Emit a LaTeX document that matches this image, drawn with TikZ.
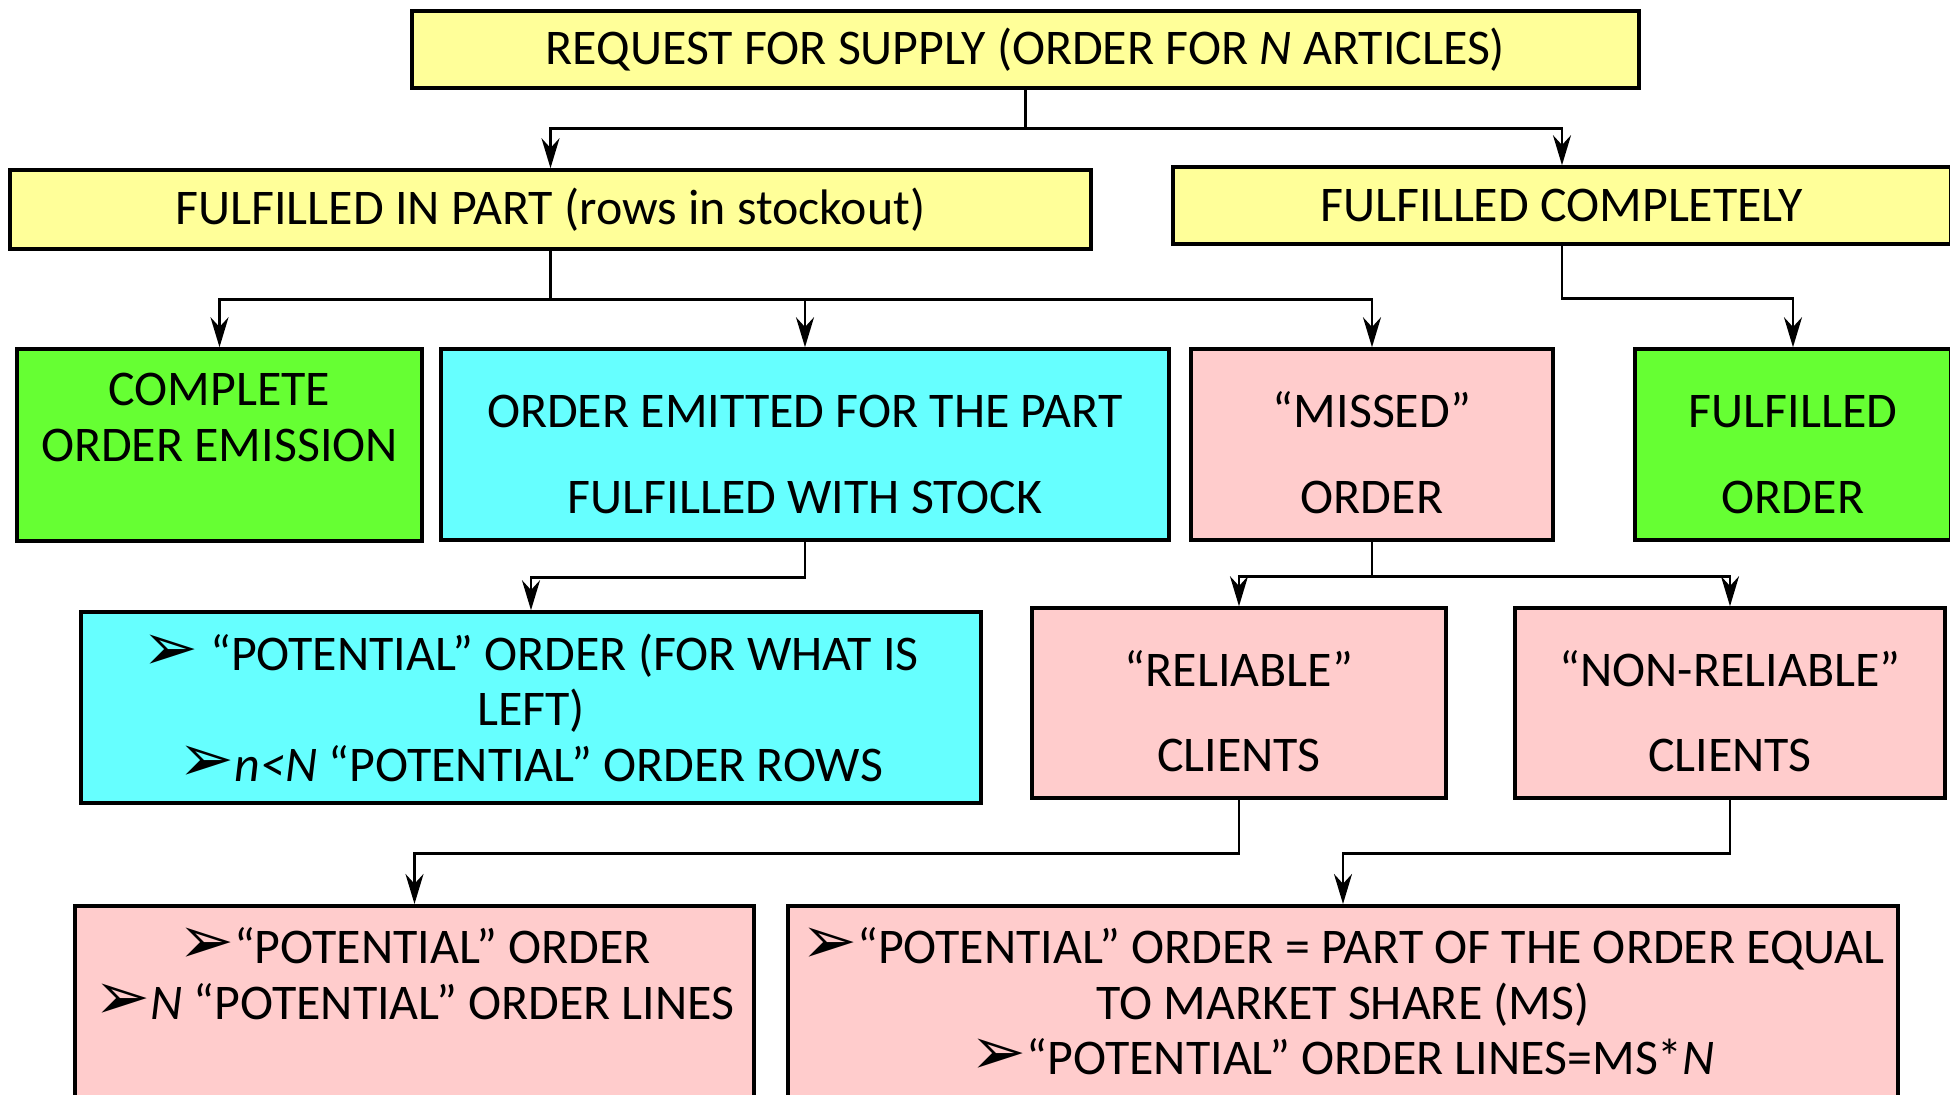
\documentclass[tikz,border=0pt]{standalone}
\usepackage{fontspec}
\setmainfont{Carlito}
\newfontfamily\arrowsym{DejaVu Sans}
\usetikzlibrary{arrows.meta}
\definecolor{reqyellow}{HTML}{FFFF99}
\definecolor{donegreen}{HTML}{66FF33}
\definecolor{stockcyan}{HTML}{66FFFF}
\definecolor{misspink}{HTML}{FFCCCC}
\newcommand{\itemarrow}{\smash{\arrowsym\fontsize{19}{19}\selectfont\char"27A2}}
\newcommand{\toppad}{\rule{0pt}{0.52cm}}
\tikzset{
  box/.style={draw, line width=1pt, align=center, inner sep=0pt, font=\fontsize{14.2}{15.8}\selectfont},
  kreq/.style={box, fill=reqyellow}, kdone/.style={box, fill=donegreen},
  kstock/.style={box, fill=stockcyan}, kmiss/.style={box, fill=misspink},
  kopen/.style={kmiss, anchor=north, inner ysep=0.22cm, text depth=3cm},
  flow/.style={-{Stealth[length=3mm, width=1.8mm]}, line width=0.8pt},
}

\begin{document}
\begin{tikzpicture}
    \useasboundingbox (0,0) rectangle (19.5,-10.95);
    \clip (0,0) rectangle (19.5,-10.95);
    % first level
    \node[kreq, minimum width=12.27cm, minimum height=0.77cm] (req) at (10.255,-0.495) {REQUEST FOR SUPPLY (ORDER FOR \textit{N} ARTICLES)};
    \node[kreq, minimum width=10.81cm, minimum height=0.79cm] (part) at (5.505,-2.095) {FULFILLED IN PART (rows in stockout)};
    \node[kreq, minimum width=7.78cm, minimum height=0.77cm] (compl) at (15.62,-2.055) {FULFILLED COMPLETELY};
    % outcomes
    \node[kdone, minimum width=4.05cm, minimum height=1.92cm] (emis) at (2.195,-4.45) {COMPLETE\\ORDER EMISSION\\\mbox{}};
    \node[kstock, minimum width=7.28cm, minimum height=1.91cm] (emit) at (8.05,-4.445) {\toppad ORDER EMITTED FOR THE PART\\[0.3cm]FULFILLED WITH STOCK};
    \node[kmiss, minimum width=3.62cm, minimum height=1.91cm] (missed) at (13.72,-4.445) {\toppad“MISSED”\\[0.3cm]ORDER};
    \node[kdone, minimum width=3.16cm, minimum height=1.91cm] (fulord) at (17.93,-4.445) {\toppad FULFILLED\\[0.3cm]ORDER};
    \node[kstock, minimum width=9.00cm, minimum height=1.91cm] (potleft) at (5.31,-7.075) {\itemarrow{} “POTENTIAL” ORDER (FOR WHAT IS\\LEFT)\\\itemarrow\textit{n<N} “POTENTIAL” ORDER ROWS};
    \node[kmiss, minimum width=4.14cm, minimum height=1.90cm] (reliable) at (12.39,-7.03) {\toppad“RELIABLE”\\[0.3cm]CLIENTS};
    \node[kmiss, minimum width=4.30cm, minimum height=1.90cm] (nonrel) at (17.30,-7.03) {\toppad“NON-RELIABLE”\\[0.3cm]CLIENTS};
    \node[kopen, minimum width=6.79cm] (potN) at (4.145,-9.04) {\itemarrow“POTENTIAL” ORDER\\\itemarrow\textit{N} “POTENTIAL” ORDER LINES};
    \node[kopen, minimum width=11.10cm] (potMS) at (13.43,-9.04) {\itemarrow“POTENTIAL” ORDER = PART OF THE ORDER EQUAL\\TO MARKET SHARE (MS)\\\itemarrow“POTENTIAL” ORDER LINES=MS*\textit{N}};
    % connectors
    \draw[flow] (req.south) -- ++(0,-0.39) -| (part.north);
    \draw[flow] (req.south) -- ++(0,-0.39) -| (compl.north);
    \draw[flow] (part.south) -- ++(0,-0.49) -| (emis.north);
    \draw[flow] (part.south) -- ++(0,-0.49) -| (emit.north);
    \draw[flow] (part.south) -- ++(0,-0.49) -| (missed.north);
    \draw[flow] (compl.south) -- ++(0,-0.53) -| (fulord.north);
    \draw[flow] (emit.south) -- ++(0,-0.36) -| (potleft.north);
    \draw[flow] (missed.south) -- ++(0,-0.35) -| (reliable.north);
    \draw[flow] (missed.south) -- ++(0,-0.35) -| (nonrel.north);
    \draw[flow] (reliable.south) -- ++(0,-0.54) -| (potN.north);
    \draw[flow] (nonrel.south) -- ++(0,-0.54) -| (potMS.north);
  \end{tikzpicture}
\end{document}
